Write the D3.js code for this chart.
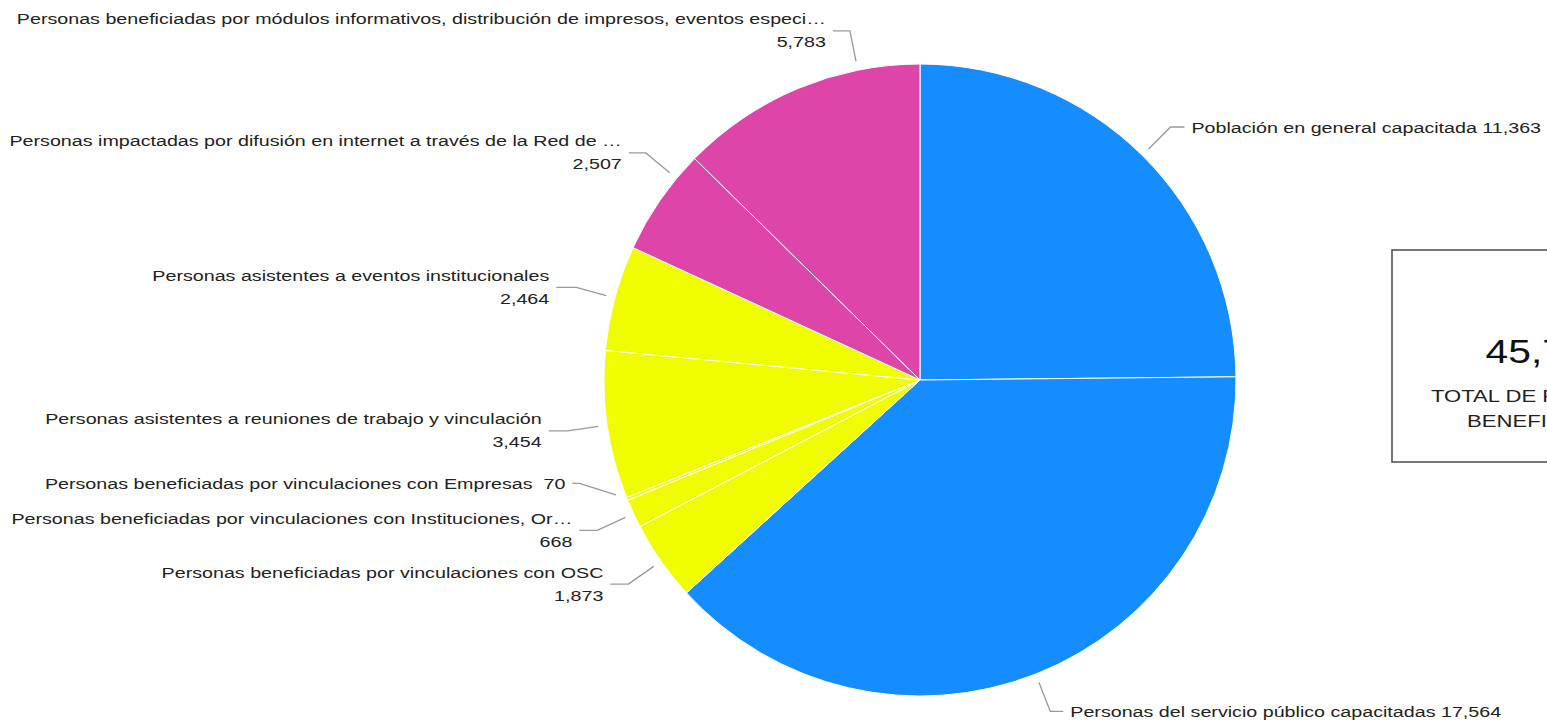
<!DOCTYPE html>
<html>
<head>
<meta charset="utf-8">
<script src="https://cdn.jsdelivr.net/npm/d3@7"></script>
<style>
  html, body { margin: 0; padding: 0; background: #fff; }
  svg { display: block; }
  text { font-family: "Liberation Sans", Arial, sans-serif; fill: #222; }
</style>
</head>
<body>
<svg id="chart" width="1547" height="721"></svg>
<script>
// ---- data ----
const categories = [
  "Población en general capacitada",
  "Personas del servicio público capacitadas",
  "Personas beneficiadas por vinculaciones con OSC",
  "Personas beneficiadas por vinculaciones con Instituciones, Or…",
  "Personas beneficiadas por vinculaciones con Empresas",
  "Personas asistentes a reuniones de trabajo y vinculación",
  "Personas asistentes a eventos institucionales",
  "Personas impactadas por difusión en internet a través de la Red de …",
  "Personas beneficiadas por módulos informativos, distribución de impresos, eventos especi…"
];
const values = [11363, 17564, 1873, 668, 70, 3454, 2464, 2507, 5783];
const groups = ["capacitacion", "capacitacion", "vinculacion", "vinculacion", "vinculacion", "vinculacion", "vinculacion", "difusion", "difusion"];
const totalTitle = ["TOTAL DE PERSONAS", "BENEFICIADAS"];

// ---- layout / style ----
const groupColors = { capacitacion: "#168dff", vinculacion: "#effd00", difusion: "#dd45a8" };
const leaderStartShift = [0, 0, 0, 0, 1.4, 0, 0, 5, 11.4];   // degrees
const leaderElbowShift = [0, 0, 0, 0, 5.2, 0, 0, 5, 11.4];   // degrees
const leaderHLen = [14, 13, 18, 18, 7, 19, 20, 17, 17];
const twoLine = [false, false, true, true, false, true, true, true, true];

const W = 1547, H = 721;
const cx = 920, cy = 380, R = 316;
const SX = 1.27;            // horizontal glyph stretch seen in the reference
const labelFont = 15.5;
const fmt = d3.format(",");

const svg = d3.select("#chart");
const g = svg.append("g").attr("transform", `translate(${cx},${cy})`);

const pie = d3.pie().sort(null).value(d => d).startAngle(0).endAngle(2 * Math.PI);
const arcs = pie(values);
const arc = d3.arc().innerRadius(0).outerRadius(R);

g.selectAll("path.slice")
  .data(arcs)
  .join("path")
  .attr("class", "slice")
  .attr("d", arc)
  .attr("fill", (d, i) => groupColors[groups[i]])
  .attr("stroke", "#ffffff")
  .attr("stroke-width", 1);

function polar(angle, r) {
  return [r * Math.sin(angle), -r * Math.cos(angle)];
}
const deg = Math.PI / 180;

const labels = svg.append("g").attr("transform", `translate(${cx},${cy})`);

arcs.forEach((d, i) => {
  const mid = (d.startAngle + d.endAngle) / 2;
  const a0 = mid + leaderStartShift[i] * deg;
  const a1 = mid + leaderElbowShift[i] * deg;
  const p0 = polar(a0, R + 9);
  const p1 = polar(a1, R + 40);
  const right = Math.sin(a1) >= 0;
  const p2 = [p1[0] + (right ? 1 : -1) * leaderHLen[i], p1[1]];
  labels.append("polyline")
    .attr("points", [p0, p1, p2].map(p => p.join(",")).join(" "))
    .attr("fill", "none")
    .attr("stroke", "#9a9a9a")
    .attr("stroke-width", 1.3);

  const tx = p2[0] + (right ? 7 : -7);
  const anchor = right ? "start" : "end";
  const lines = twoLine[i]
    ? [[categories[i], -6.5], [fmt(values[i]), 16.5]]
    : [[categories[i] + (i === 4 ? "\u00a0 " : " ") + fmt(values[i]), 5.5]];
  lines.forEach(([txt, dy]) => {
    labels.append("text")
      .attr("transform", `translate(${tx},${p2[1] + dy}) scale(${SX},1)`)
      .attr("text-anchor", anchor)
      .attr("font-size", labelFont)
      .text(txt);
  });
});

// ---- total box ----
const total = d3.sum(values);
const box = svg.append("g");
box.append("rect")
  .attr("x", 1392).attr("y", 250)
  .attr("width", 310).attr("height", 212)
  .attr("fill", "#fff")
  .attr("stroke", "#555")
  .attr("stroke-width", 1.6);
const bcx = 1548;
box.append("text")
  .attr("transform", `translate(${bcx},363) scale(1.2,1)`)
  .attr("text-anchor", "middle")
  .attr("font-size", 34)
  .style("fill", "#111")
  .text(fmt(total));
totalTitle.forEach((t, k) => {
  box.append("text")
    .attr("transform", `translate(${bcx},${402 + k * 25}) scale(1.3,1)`)
    .attr("text-anchor", "middle")
    .attr("font-size", 17)
    .style("fill", "#222")
    .text(t);
});
</script>
</body>
</html>
